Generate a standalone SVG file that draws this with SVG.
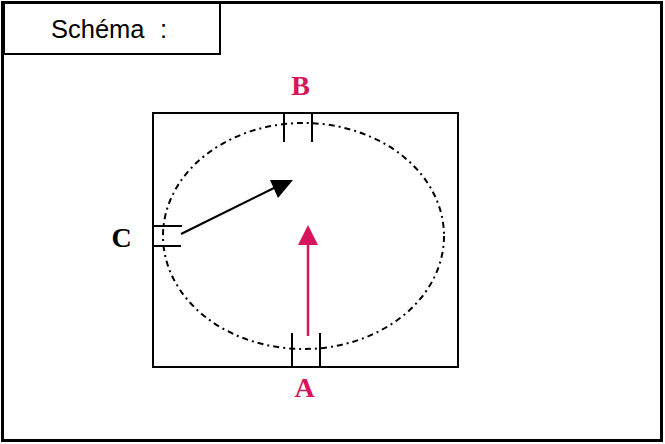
<svg xmlns="http://www.w3.org/2000/svg" width="665" height="444" viewBox="0 0 665 444">
<style>
.ln{stroke:#000;stroke-width:2;fill:none}
.lbl{font-family:"Liberation Serif",serif;font-weight:bold;font-size:28px;text-anchor:middle}
.pk{fill:#d6155c}
</style>
<rect width="665" height="444" fill="#fff"/>
<g id="frame">
<rect x="2.5" y="2.5" width="659" height="438" fill="none" stroke="#000" stroke-width="3"/>
<rect x="4" y="3" width="216" height="51" fill="none" stroke="#000" stroke-width="2"/>
<text x="51" y="38" font-family="Liberation Sans,Arial,sans-serif" font-size="25.5">Schéma</text>
<text x="160" y="38" font-family="Liberation Sans,Arial,sans-serif" font-size="25.5">:</text>
</g>
<g id="box">
<rect x="153" y="113" width="305" height="254" class="ln"/>
<ellipse cx="303.5" cy="236" rx="140.5" ry="113" fill="none" stroke="#000" stroke-width="2" stroke-dasharray="6,4,2,4"/>
</g>
<g id="B">
<line x1="284" y1="113" x2="284" y2="142" class="ln"/>
<line x1="312" y1="113" x2="312" y2="142" class="ln"/>
<text x="300.5" y="95" class="lbl pk">B</text>
</g>
<g id="A">
<line x1="292" y1="333" x2="292" y2="367" class="ln"/>
<line x1="320" y1="333" x2="320" y2="367" class="ln"/>
<text x="304.5" y="397" class="lbl pk">A</text>
</g>
<g id="C">
<line x1="153" y1="226" x2="182" y2="226" class="ln"/>
<line x1="153" y1="246" x2="181" y2="246" class="ln"/>
<text x="121.5" y="247" class="lbl" font-size="31">C</text>
</g>
<g id="connectors">
<line x1="181" y1="234" x2="276" y2="187" stroke="#000" stroke-width="2.2"/>
<polygon points="270,180 293,180 278,198" fill="#000"/>
<line x1="308" y1="336" x2="308" y2="243" stroke="#d6155c" stroke-width="2.5"/>
<polygon points="308,225 298,245 318,245" fill="#d6155c"/>
</g>
</svg>
